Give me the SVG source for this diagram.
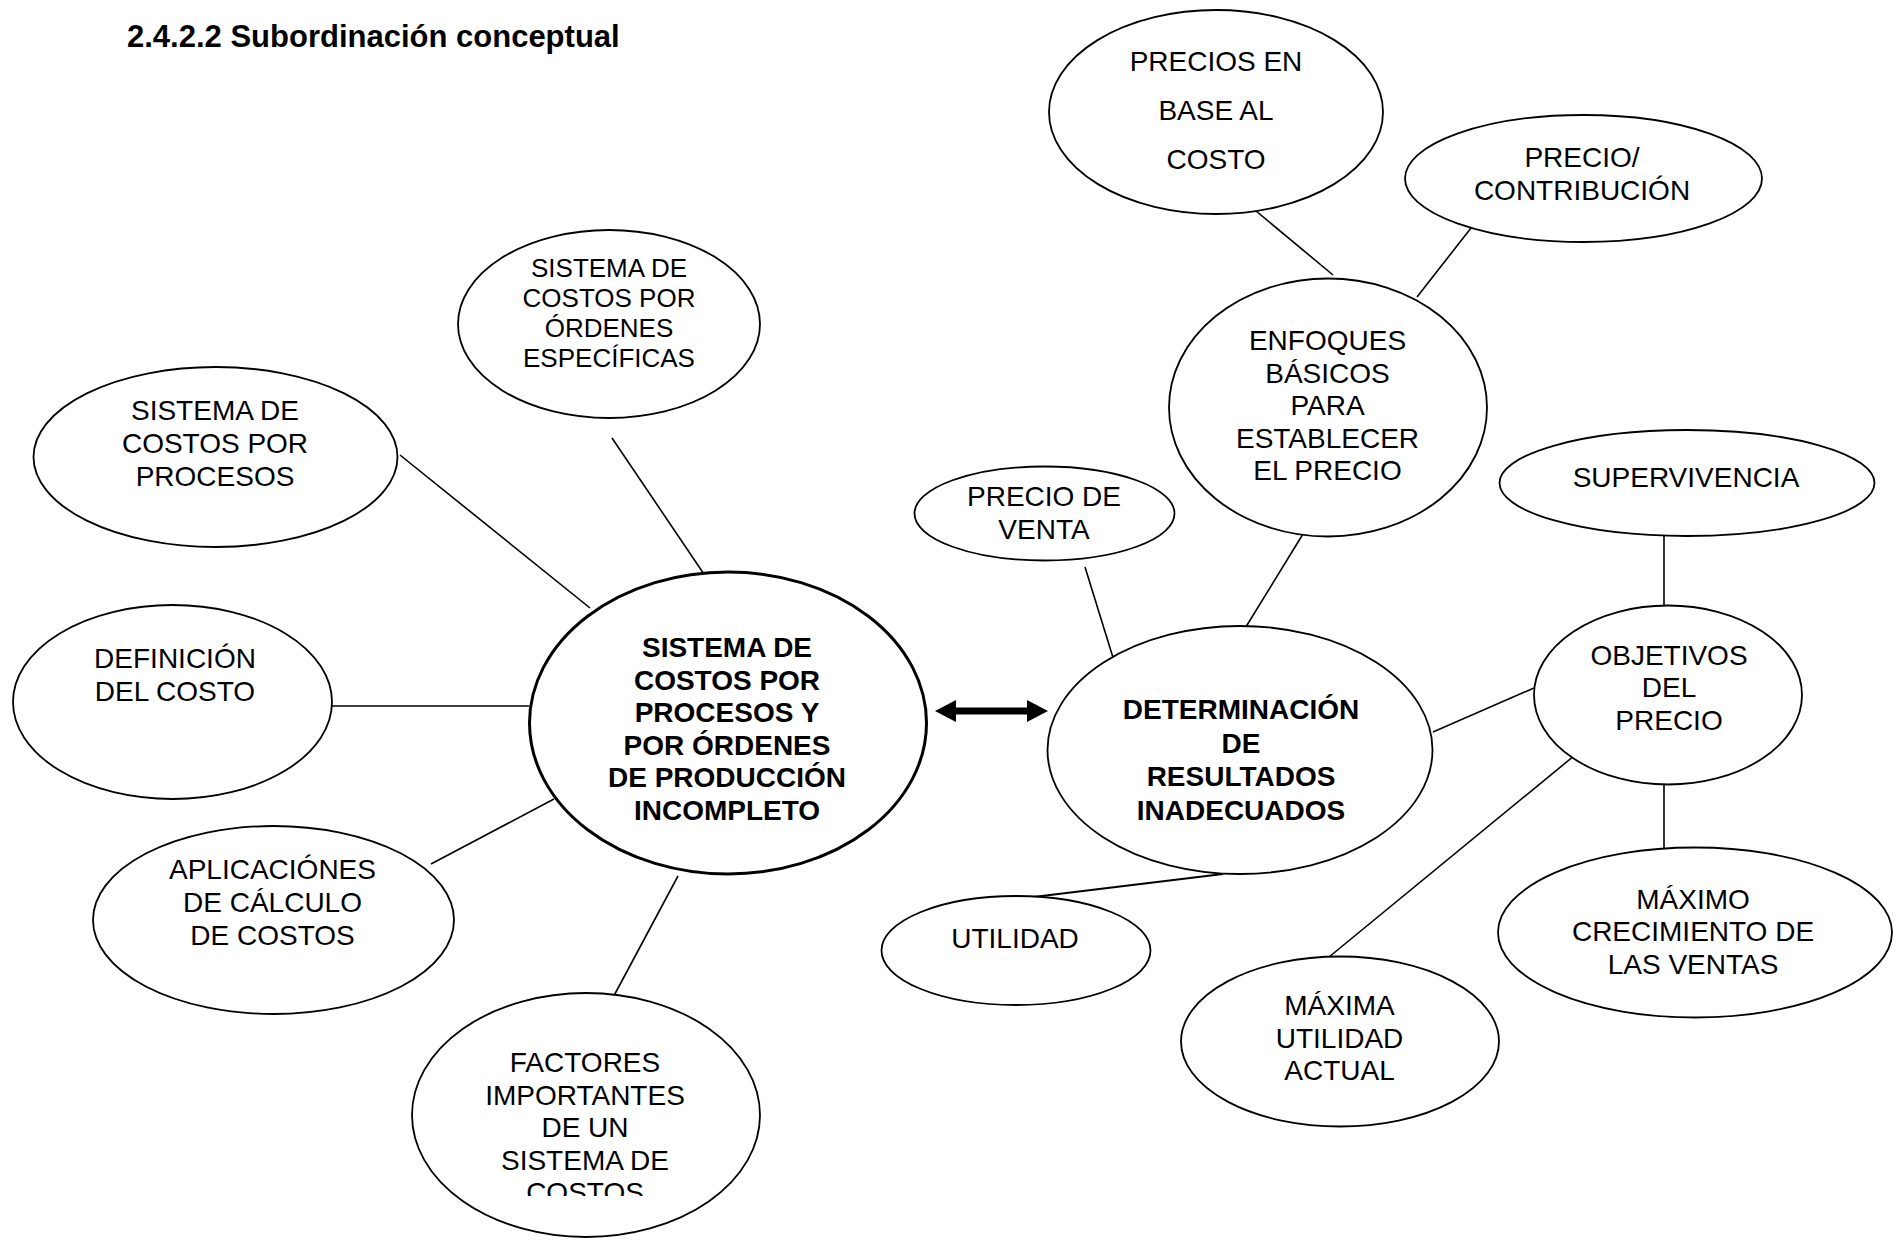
<svg xmlns="http://www.w3.org/2000/svg" width="1899" height="1240" viewBox="0 0 1899 1240">
  <style>
    .node ellipse { fill: #ffffff; stroke: #000000; stroke-width: 1.8; }
    .node.main ellipse { stroke-width: 3; }
    .node text { font-family: "Liberation Sans", Arial, sans-serif; font-size: 28px; fill: #000000; text-anchor: middle; }
    .node.bold text { font-weight: bold; }
    .title { font-family: "Liberation Sans", Arial, sans-serif; font-size: 31px; font-weight: bold; fill: #000000; }
    .links line { stroke: #000000; stroke-width: 1.6; }
    .links .arrow { fill: #000000; stroke: none; }
  </style>
  <defs>
    <clipPath id="clip-factores">
      <rect x="400" y="1030" width="380" height="166"/>
    </clipPath>
  </defs>

  <rect width="1899" height="1240" fill="#ffffff"/>

  <text class="title" x="127" y="47">2.4.2.2 Subordinación conceptual</text>

  <!-- connectors -->
  <g class="links">
    <line x1="400" y1="455" x2="590" y2="608"/>
    <line x1="612" y1="438" x2="710" y2="583"/>
    <line x1="332" y1="706" x2="529" y2="706"/>
    <line x1="431" y1="864" x2="554" y2="799"/>
    <line x1="678" y1="876" x2="609" y2="1005"/>
    <!-- double-headed arrow between the two central concepts -->
    <path class="arrow" d="M935,711 L956,700 L956,707.5 L1027,707.5 L1027,700 L1048,711 L1027,722 L1027,714.5 L956,714.5 L956,722 Z"/>
    <line x1="1085" y1="567" x2="1115" y2="664"/>
    <line x1="1303" y1="534" x2="1244" y2="630"/>
    <line x1="1250" y1="206" x2="1333" y2="275"/>
    <line x1="1471" y1="228" x2="1417" y2="297"/>
    <line x1="1664" y1="536" x2="1664" y2="606"/>
    <line x1="1534" y1="688" x2="1433" y2="732"/>
    <line x1="1664" y1="765" x2="1664" y2="849"/>
    <line x1="1580" y1="751" x2="1329" y2="957"/>
    <line x1="1223" y1="874" x2="1017" y2="899" style="stroke-width:2.2"/>
  </g>

  <!-- left cluster -->
  <g id="n-ordenes" class="node">
    <ellipse cx="609" cy="324" rx="151" ry="94"/>
    <text x="609" y="277" style="font-size:26px">SISTEMA DE</text>
    <text x="609" y="307" style="font-size:26px">COSTOS POR</text>
    <text x="609" y="337" style="font-size:26px">ÓRDENES</text>
    <text x="609" y="367" style="font-size:26px">ESPECÍFICAS</text>
  </g>

  <g id="n-procesos" class="node">
    <ellipse cx="215.5" cy="457" rx="182" ry="90"/>
    <text x="215" y="420">SISTEMA DE</text>
    <text x="215" y="453">COSTOS POR</text>
    <text x="215" y="486">PROCESOS</text>
  </g>

  <g id="n-definicion" class="node">
    <ellipse cx="172.5" cy="702" rx="159.5" ry="97"/>
    <text x="175" y="668">DEFINICIÓN</text>
    <text x="175" y="701">DEL COSTO</text>
  </g>

  <g id="n-aplicaciones" class="node">
    <ellipse cx="273.5" cy="920" rx="180.5" ry="94"/>
    <text x="272.5" y="879">APLICACIÓNES</text>
    <text x="272.5" y="912">DE CÁLCULO</text>
    <text x="272.5" y="945">DE COSTOS</text>
  </g>

  <g id="n-factores" class="node">
    <ellipse cx="586" cy="1115" rx="174" ry="122"/>
    <g clip-path="url(#clip-factores)">
      <text x="585" y="1072">FACTORES</text>
      <text x="585" y="1105">IMPORTANTES</text>
      <text x="585" y="1137">DE UN</text>
      <text x="585" y="1170">SISTEMA DE</text>
      <text x="585" y="1202">COSTOS</text>
    </g>
  </g>

  <g id="n-sistema" class="node main bold">
    <ellipse cx="728" cy="723" rx="198.5" ry="151"/>
    <text x="727" y="657">SISTEMA DE</text>
    <text x="727" y="690">COSTOS POR</text>
    <text x="727" y="722">PROCESOS Y</text>
    <text x="727" y="755">POR ÓRDENES</text>
    <text x="727" y="787">DE PRODUCCIÓN</text>
    <text x="727" y="820">INCOMPLETO</text>
  </g>

  <!-- right cluster -->
  <g id="n-determinacion" class="node bold">
    <ellipse cx="1240" cy="750" rx="192.5" ry="124"/>
    <text x="1241" y="719">DETERMINACIÓN</text>
    <text x="1241" y="753">DE</text>
    <text x="1241" y="786">RESULTADOS</text>
    <text x="1241" y="820">INADECUADOS</text>
  </g>

  <g id="n-precio-venta" class="node">
    <ellipse cx="1044.5" cy="513.5" rx="130" ry="47"/>
    <text x="1044" y="506">PRECIO DE</text>
    <text x="1044" y="539">VENTA</text>
  </g>

  <g id="n-enfoques" class="node">
    <ellipse cx="1328" cy="407.5" rx="159" ry="129"/>
    <text x="1327.5" y="350">ENFOQUES</text>
    <text x="1327.5" y="383">BÁSICOS</text>
    <text x="1327.5" y="415">PARA</text>
    <text x="1327.5" y="448">ESTABLECER</text>
    <text x="1327.5" y="480">EL PRECIO</text>
  </g>

  <g id="n-base-costo" class="node">
    <ellipse cx="1216" cy="112" rx="167" ry="102"/>
    <text x="1216" y="71">PRECIOS EN</text>
    <text x="1216" y="120">BASE AL</text>
    <text x="1216" y="169">COSTO</text>
  </g>

  <g id="n-contribucion" class="node">
    <ellipse cx="1583.5" cy="178.5" rx="178.5" ry="63.5"/>
    <text x="1582" y="167">PRECIO/</text>
    <text x="1582" y="200">CONTRIBUCIÓN</text>
  </g>

  <g id="n-supervivencia" class="node">
    <ellipse cx="1687" cy="483" rx="187.5" ry="53"/>
    <text x="1686" y="487">SUPERVIVENCIA</text>
  </g>

  <g id="n-objetivos" class="node">
    <ellipse cx="1668" cy="695" rx="134" ry="89.5"/>
    <text x="1669" y="665">OBJETIVOS</text>
    <text x="1669" y="697">DEL</text>
    <text x="1669" y="730">PRECIO</text>
  </g>

  <g id="n-crecimiento" class="node">
    <ellipse cx="1695" cy="932.5" rx="197" ry="85"/>
    <text x="1693" y="909">MÁXIMO</text>
    <text x="1693" y="941">CRECIMIENTO DE</text>
    <text x="1693" y="974">LAS VENTAS</text>
  </g>

  <g id="n-maxima-utilidad" class="node">
    <ellipse cx="1340" cy="1041.5" rx="159" ry="85"/>
    <text x="1339.5" y="1015">MÁXIMA</text>
    <text x="1339.5" y="1048">UTILIDAD</text>
    <text x="1339.5" y="1080">ACTUAL</text>
  </g>

  <g id="n-utilidad" class="node">
    <ellipse cx="1016" cy="950.5" rx="134.5" ry="54.5"/>
    <text x="1015" y="948">UTILIDAD</text>
  </g>
</svg>
